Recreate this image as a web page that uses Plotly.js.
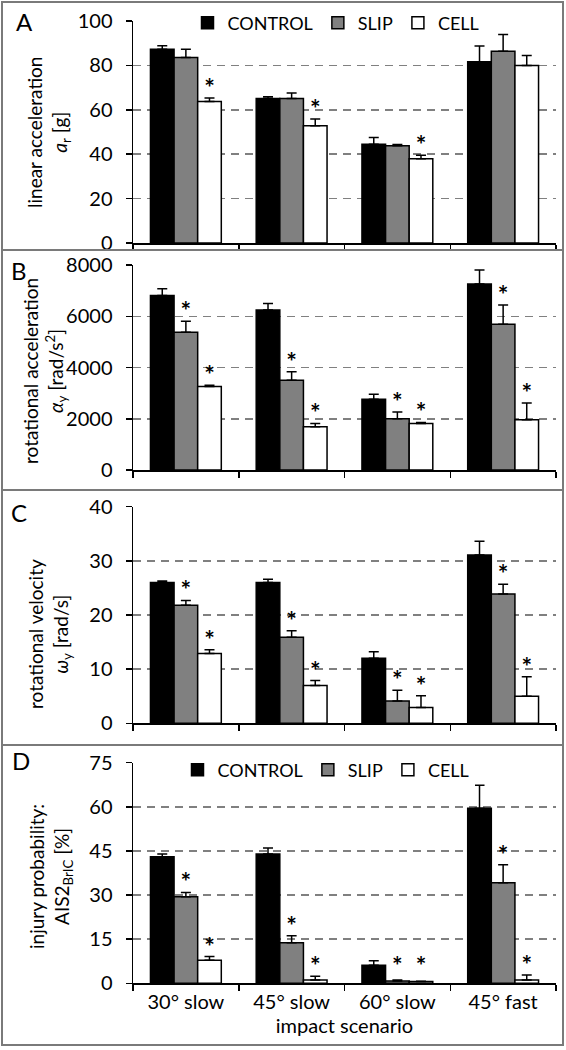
<!DOCTYPE html>
<html>
<head>
<meta charset="utf-8">
<script src="https://cdn.plot.ly/plotly-3.0.1.min.js"></script>
<style>
html,body{margin:0;padding:0;background:#fff;}
#chart{width:566px;height:1050px;}
</style>
</head>
<body>
<div id="chart"></div>
<script>
// ---------------- DATA ----------------
const categories = ['30° slow', '45° slow', '60° slow', '45° fast'];
const seriesNames = ['CONTROL', 'SLIP', 'CELL'];

// Panel A: linear acceleration a_r [g]
const linAccControl    = [87.3, 65.1, 44.5, 81.6];
const linAccControlErr = [1.5, 0.8, 3.0, 7.1];
const linAccSlip       = [83.6, 65.1, 43.8, 86.4];
const linAccSlipErr    = [3.7, 2.5, 0.6, 7.5];
const linAccCell       = [63.7, 52.8, 38.0, 80.0];
const linAccCellErr    = [1.6, 3.0, 1.5, 4.5];
const linAccSlipSig    = [0, 0, 0, 0];
const linAccCellSig    = [1, 1, 1, 0];

// Panel B: rotational acceleration alpha_y [rad/s^2]
const rotAccControl    = [6805, 6247, 2758, 7260];
const rotAccControlErr = [273, 247, 196, 545];
const rotAccSlip       = [5377, 3503, 2000, 5688];
const rotAccSlipErr    = [428, 327, 260, 754];
const rotAccCell       = [3255, 1688, 1818, 1961];
const rotAccCellErr    = [52, 130, 39, 649];
const rotAccSlipSig    = [1, 1, 1, 1];
const rotAccCellSig    = [1, 1, 1, 1];

// Panel C: rotational velocity omega_y [rad/s]
const rotVelControl    = [26.0, 26.0, 12.0, 31.1];
const rotVelControlErr = [0.3, 0.6, 1.2, 2.5];
const rotVelSlip       = [21.8, 15.9, 4.1, 23.9];
const rotVelSlipErr    = [0.9, 1.2, 2.0, 1.8];
const rotVelCell       = [12.9, 7.0, 2.9, 5.0];
const rotVelCellErr    = [0.7, 0.9, 2.2, 3.6];
const rotVelSlipSig    = [1, 1, 1, 1];
const rotVelCellSig    = [1, 1, 1, 1];

// Panel D: injury probability AIS2_BrIC [%]
const injControl    = [43.0, 44.0, 6.1, 59.5];
const injControlErr = [1.0, 2.0, 1.6, 7.8];
const injSlip       = [29.4, 13.8, 0.8, 34.2];
const injSlipErr    = [1.5, 2.4, 0.3, 6.1];
const injCell       = [7.8, 1.1, 0.6, 1.1];
const injCellErr    = [1.3, 1.3, 0.1, 1.7];
const injSlipSig    = [1, 1, 1, 1];
const injCellSig    = [1, 1, 1, 1];

const yRangeA = [0, 100], yDtickA = 20;
const yRangeB = [0, 8000], yDtickB = 2000;
const yRangeC = [0, 40], yDtickC = 10;
const yRangeD = [0, 75], yDtickD = 15;

// ---------------- STYLE / LAYOUT ----------------
const W = 566, H = 1050;
const px = v => v / W;
const py = v => 1 - v / H;
const FONT = 'Lato, Carlito, Calibri, "Open Sans", sans-serif';
const fills = ['#000000', '#808080', '#ffffff'];
const xDom = [px(133), px(556)];
const panelPix = [[21, 243], [265, 470], [506.7, 723.3], [762.7, 983.3]];
const starDropPx = 7;   // pulls the asterisk label down toward the error-bar cap

const panels = [
  {vals: [linAccControl, linAccSlip, linAccCell], errs: [linAccControlErr, linAccSlipErr, linAccCellErr],
   sig: [[0,0,0,0], linAccSlipSig, linAccCellSig], range: yRangeA, dtick: yDtickA, legend: 'legend', showlegend: true},
  {vals: [rotAccControl, rotAccSlip, rotAccCell], errs: [rotAccControlErr, rotAccSlipErr, rotAccCellErr],
   sig: [[0,0,0,0], rotAccSlipSig, rotAccCellSig], range: yRangeB, dtick: yDtickB, legend: 'legend', showlegend: false},
  {vals: [rotVelControl, rotVelSlip, rotVelCell], errs: [rotVelControlErr, rotVelSlipErr, rotVelCellErr],
   sig: [[0,0,0,0], rotVelSlipSig, rotVelCellSig], range: yRangeC, dtick: yDtickC, legend: 'legend', showlegend: false},
  {vals: [injControl, injSlip, injCell], errs: [injControlErr, injSlipErr, injCellErr],
   sig: [[0,0,0,0], injSlipSig, injCellSig], range: yRangeD, dtick: yDtickD, legend: 'legend2', showlegend: true}
];

const traces = [];
const layout = {
  width: W, height: H,
  margin: {l: 0, r: 0, t: 0, b: 0},
  paper_bgcolor: '#fff', plot_bgcolor: '#fff',
  font: {family: FONT, size: 20, color: '#000'},
  barmode: 'group', bargap: 0.33, bargroupgap: 0,
  showlegend: true,
  legend: {orientation: 'h', x: px(336), xanchor: 'center', y: py(23), yanchor: 'middle',
           bgcolor: '#fff', font: {size: 18, family: FONT}, traceorder: 'normal', itemclick: false, itemdoubleclick: false},
  legend2: {orientation: 'h', x: px(326), xanchor: 'center', y: py(770), yanchor: 'middle',
           bgcolor: '#fff', font: {size: 18, family: FONT}, traceorder: 'normal', itemclick: false, itemdoubleclick: false},
  annotations: [], shapes: []
};

panels.forEach((p, k) => {
  const sfx = k === 0 ? '' : String(k + 1);
  const xa = 'x' + sfx, ya = 'y' + sfx;
  const unitsPerPx = (p.range[1] - p.range[0]) / (panelPix[k][1] - panelPix[k][0]);
  p.vals.forEach((vals, s) => {
    traces.push({
      type: 'bar', x: categories, y: vals, name: seriesNames[s], offsetgroup: seriesNames[s],
      xaxis: xa, yaxis: ya, legend: p.legend, showlegend: p.showlegend,
      marker: {color: fills[s], line: {color: '#000', width: 1.5}},
      error_y: {type: 'data', symmetric: false, array: p.errs[s], arrayminus: vals.map(() => 0),
                color: '#000', thickness: 1.5, width: 5},
      hoverinfo: 'skip'
    });
  });
  p.vals.forEach((vals, s) => {
    traces.push({
      type: 'bar', x: categories, y: vals.map(() => 0),
      base: vals.map((v, i) => Math.max(v + p.errs[s][i] - starDropPx * unitsPerPx, 0)),
      offsetgroup: seriesNames[s], xaxis: xa, yaxis: ya, showlegend: false, legend: p.legend,
      text: p.sig[s].map(b => b ? '*' : ''), textposition: 'outside', constraintext: 'none', cliponaxis: false,
      textfont: {size: 25, color: '#000', family: FONT, weight: 'bold'},
      marker: {color: 'rgba(0,0,0,0)', line: {width: 0}}, hoverinfo: 'skip'
    });
  });
  const dom = [py(panelPix[k][1]), py(panelPix[k][0])];
  layout['xaxis' + sfx] = {
    domain: xDom, anchor: ya, type: 'category', range: [-0.5, 3.5], tickson: 'boundaries',
    ticks: 'outside', ticklen: 6, tickwidth: 1.5, tickcolor: '#000',
    showline: true, linecolor: '#000', linewidth: 1.5, showgrid: false, zeroline: false,
    showticklabels: k === 3, tickfont: {size: 20}, fixedrange: true
  };
  layout['yaxis' + sfx] = {
    domain: dom, anchor: xa, range: p.range, dtick: p.dtick, tick0: 0,
    ticks: 'outside', ticklen: 6, tickwidth: 1.5, tickcolor: '#000', ticklabelstandoff: 9,
    showline: true, linecolor: '#000', linewidth: 1.5,
    showgrid: true, gridcolor: '#808080', gridwidth: 1.5, griddash: '8px,6px', zeroline: false,
    tickfont: {size: 20}, fixedrange: true
  };
});
layout.xaxis4.title = {text: 'impact scenario', font: {size: 20}, standoff: 0};

// y-axis titles and panel letters
const yTitles = [
  {text: 'linear acceleration<br><i>a</i><sub>r</sub> [g]', x: 48, y: 133},
  {text: 'rotational acceleration<br><i>α</i><sub>y</sub> [rad/s<sup>2</sup>]', x: 45, y: 371},
  {text: 'rotational velocity<br><i>ω</i><sub>y</sub> [rad/s]', x: 49, y: 634},
  {text: 'injury probability:<br>AIS2<sub>BrIC</sub> [%]', x: 50, y: 877}
];
yTitles.forEach(t => layout.annotations.push({
  text: t.text, xref: 'paper', yref: 'paper', x: px(t.x), y: py(t.y), xanchor: 'center', yanchor: 'middle',
  textangle: -90, showarrow: false, font: {size: 19, family: FONT}
}));
const letters = [['A', 24, 22], ['B', 19, 270], ['C', 19, 512], ['D', 21, 760]];
letters.forEach(l => layout.annotations.push({
  text: l[0], xref: 'paper', yref: 'paper', x: px(l[1]), y: py(l[2]), xanchor: 'center', yanchor: 'middle',
  showarrow: false, font: {size: 24, family: FONT}
}));

// panel frame
const frameColor = '#7a7a7a';
layout.shapes.push({type: 'rect', xref: 'paper', yref: 'paper', x0: px(2), x1: px(563), y0: py(2), y1: py(1045),
  line: {color: frameColor, width: 2}, fillcolor: 'rgba(0,0,0,0)'});
[250, 490, 745].forEach(yy => layout.shapes.push({type: 'line', xref: 'paper', yref: 'paper',
  x0: px(2), x1: px(563), y0: py(yy), y1: py(yy), line: {color: frameColor, width: 2}}));

Plotly.newPlot('chart', traces, layout, {displayModeBar: false, staticPlot: true});
</script>
</body>
</html>
